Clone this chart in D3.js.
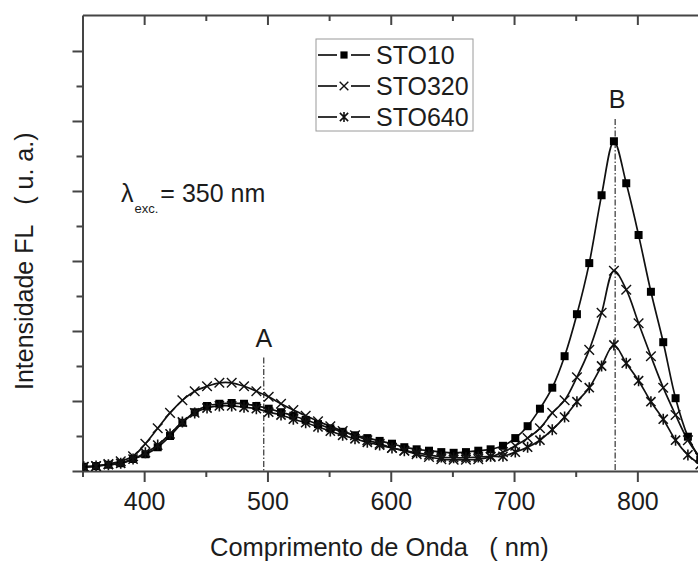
<!DOCTYPE html>
<html>
<head>
<meta charset="utf-8">
<script src="https://cdn.jsdelivr.net/npm/d3@7"></script>
<style>
  body { margin: 0; background: #fff; }
  text { font-family: "Liberation Sans", Arial, Helvetica, sans-serif; fill: #1c1c1c; }
</style>
</head>
<body>
<svg id="chart" width="698" height="561"></svg>
<script>
// Emission wavelengths (nm)
const wavelength = [351, 361, 371, 381, 391, 401, 411, 421, 431, 441,
                    451, 461, 471, 481, 491, 501, 511, 521, 531, 541,
                    551, 561, 571, 581, 591, 601, 611, 621, 631, 641,
                    651, 661, 671, 681, 691, 701, 711, 721, 731, 741,
                    751, 761, 771, 781, 791, 801, 811, 821, 831, 841, 851];

// Photoluminescence intensity (arbitrary units)
const sto10 = [0.06, 0.07, 0.09, 0.11, 0.17, 0.24, 0.34, 0.50, 0.69, 0.84,
               0.93, 0.96, 0.97, 0.96, 0.93, 0.89, 0.84, 0.79, 0.73, 0.67,
               0.61, 0.56, 0.51, 0.47, 0.43, 0.39, 0.34, 0.31, 0.29, 0.27,
               0.26, 0.27, 0.29, 0.31, 0.36, 0.47, 0.64, 0.89, 1.19, 1.64,
               2.24, 2.97, 3.94, 4.71, 4.11, 3.37, 2.56, 1.84, 1.04, 0.49, 0.16];

const sto320 = [0.06, 0.07, 0.10, 0.14, 0.21, 0.39, 0.61, 0.83, 1.01, 1.14,
                1.21, 1.26, 1.26, 1.21, 1.14, 1.06, 0.96, 0.87, 0.79, 0.71,
                0.64, 0.57, 0.51, 0.44, 0.39, 0.33, 0.29, 0.24, 0.20, 0.17,
                0.16, 0.16, 0.17, 0.20, 0.27, 0.36, 0.47, 0.61, 0.83, 1.01,
                1.34, 1.73, 2.26, 2.86, 2.59, 2.11, 1.64, 1.19, 0.80, 0.44, 0.19];

const sto640 = [0.06, 0.07, 0.09, 0.11, 0.17, 0.26, 0.37, 0.53, 0.70, 0.83,
                0.90, 0.93, 0.93, 0.91, 0.89, 0.84, 0.80, 0.74, 0.69, 0.63,
                0.57, 0.51, 0.46, 0.41, 0.37, 0.33, 0.29, 0.26, 0.23, 0.20,
                0.19, 0.19, 0.20, 0.21, 0.21, 0.27, 0.34, 0.44, 0.59, 0.77,
                0.99, 1.19, 1.50, 1.80, 1.54, 1.29, 0.99, 0.74, 0.44, 0.23, 0.09];

const seriesNames = ["STO10", "STO320", "STO640"];
const xTickLabels = [400, 500, 600, 700, 800];
const xMinorTicks = [350, 450, 550, 650, 750, 850];
const yMajorTicks = [0, 1, 2, 3, 4, 5, 6];
const yMinorTicks = [0.5, 1.5, 2.5, 3.5, 4.5, 5.5];
const bandLabels = ["A", "B"];
const bandPositions = [497, 782];
const bandHeights = [1.62, 5.03];

const svg = d3.select("#chart");
const pLeft = 82.5, pRight = 699, pTop = 15, pBottom = 471;

const x = d3.scaleLinear().domain([350, 850]).range([pLeft, pRight]);
const y = d3.scaleLinear().domain([0, 6.514]).range([pBottom, pTop]);

const axisColor = "#454545";

svg.append("defs").append("clipPath").attr("id", "plotClip")
  .append("rect").attr("x", pLeft).attr("y", pTop)
  .attr("width", pRight - pLeft).attr("height", pBottom - pTop);

function styleAxis(g) {
  g.selectAll("path.domain").attr("stroke", axisColor).attr("stroke-width", 2);
  g.selectAll(".tick line").attr("stroke", axisColor).attr("stroke-width", 2);
}

// bottom axis: labelled major ticks + minor ticks, pointing outward
const bx = svg.append("g").attr("transform", `translate(0,${pBottom})`);
bx.append("g")
  .call(d3.axisBottom(x).tickValues(xTickLabels).tickSizeInner(11).tickSizeOuter(0).tickPadding(10).tickFormat(d3.format("d")))
  .call(styleAxis)
  .call(g => g.selectAll("text").attr("font-size", 25).style("font-family", "'Liberation Sans', Arial, sans-serif").attr("fill", "#1c1c1c"));
bx.append("g")
  .call(d3.axisBottom(x).tickValues(xMinorTicks).tickSizeInner(6).tickSizeOuter(0).tickFormat(""))
  .call(styleAxis)
  .call(g => g.select("path.domain").remove());

// top axis: ticks pointing inward
const tx = svg.append("g").attr("transform", `translate(0,${pTop})`);
tx.append("g")
  .call(d3.axisBottom(x).tickValues(xTickLabels).tickSizeInner(10).tickSizeOuter(0).tickFormat(""))
  .call(styleAxis);
tx.append("g")
  .call(d3.axisBottom(x).tickValues(xMinorTicks.slice(1)).tickSizeInner(6).tickSizeOuter(0).tickFormat(""))
  .call(styleAxis)
  .call(g => g.select("path.domain").remove());

// left axis: unlabelled ticks pointing outward
const ly = svg.append("g").attr("transform", `translate(${pLeft},0)`);
ly.append("g")
  .call(d3.axisLeft(y).tickValues(yMajorTicks).tickSizeInner(10).tickSizeOuter(0).tickFormat(""))
  .call(styleAxis);
ly.append("g")
  .call(d3.axisLeft(y).tickValues(yMinorTicks).tickSizeInner(6).tickSizeOuter(0).tickFormat(""))
  .call(styleAxis)
  .call(g => g.select("path.domain").remove());

// axis titles
svg.append("text")
  .attr("x", 210).attr("y", 556)
  .attr("font-size", 25.5)
  .style("white-space", "pre")
  .text("Comprimento de Onda   ( nm)");

svg.append("text")
  .attr("transform", "translate(33,390) rotate(-90)")
  .attr("font-size", 25)
  .style("white-space", "pre")
  .text("Intensidade FL   ( u. a.)");

// excitation wavelength note
const note = svg.append("text").attr("x", 121).attr("y", 202).attr("font-size", 25);
note.append("tspan").text("λ");
note.append("tspan").attr("font-size", 13).attr("dy", 11).attr("dx", 1).text("exc.");
note.append("tspan").attr("dy", -11).attr("dx", 2).text("= 350 nm");

// band markers A and B (dash-dot guides)
const plot = svg.append("g").attr("clip-path", "url(#plotClip)");
bandPositions.forEach((wl, i) => {
  plot.append("line")
    .attr("x1", x(wl)).attr("x2", x(wl))
    .attr("y1", y(bandHeights[i])).attr("y2", pBottom)
    .attr("stroke", "#333").attr("stroke-width", 1.2)
    .attr("stroke-dasharray", "6,2,1.5,2");
  svg.append("text")
    .attr("x", x(wl) + (i === 1 ? 2 : 0)).attr("y", y(bandHeights[i]) - 11)
    .attr("text-anchor", "middle").attr("font-size", 25)
    .text(bandLabels[i]);
});

// marker symbols
const markers = {
  square: s => `M${-s},${-s}H${s}V${s}H${-s}Z`,
  cross: s => `M${-s},${-s}L${s},${s}M${-s},${s}L${s},${-s}`,
  star: s => `M${-s},${-s}L${s},${s}M${-s},${s}L${s},${-s}M0,${-s * 1.2}V${s * 1.2}`
};
const seriesDefs = [
  { name: seriesNames[0], values: sto10, shape: "square", size: 4, fill: "#000", sw: 0 },
  { name: seriesNames[1], values: sto320, shape: "cross", size: 4.8, fill: "none", sw: 1.4 },
  { name: seriesNames[2], values: sto640, shape: "star", size: 4.6, fill: "none", sw: 1.6 }
];

const line = d3.line()
  .x((d, i) => x(wavelength[i]))
  .y(d => y(d))
  .curve(d3.curveCatmullRom.alpha(0.5));

seriesDefs.forEach(s => {
  plot.append("path")
    .attr("d", line(s.values))
    .attr("fill", "none").attr("stroke", "#111").attr("stroke-width", 1.7);
});

seriesDefs.forEach(s => {
  plot.append("g").selectAll("path")
    .data(s.values)
    .join("path")
    .attr("transform", (d, i) => `translate(${x(wavelength[i])},${y(d)})`)
    .attr("d", markers[s.shape](s.size))
    .attr("fill", s.fill)
    .attr("stroke", "#111")
    .attr("stroke-width", s.sw);
});

// legend
const lg = svg.append("g").attr("transform", "translate(316,39)");
lg.append("rect").attr("width", 157).attr("height", 92)
  .attr("fill", "#fff").attr("stroke", "#9a9a9a").attr("stroke-width", 1);
seriesDefs.forEach((s, i) => {
  const cy = 16 + i * 31;
  const row = lg.append("g").attr("transform", `translate(0,${cy})`);
  row.append("line").attr("x1", 2).attr("x2", 21).attr("stroke", "#111").attr("stroke-width", 1.7);
  row.append("line").attr("x1", 35).attr("x2", 54).attr("stroke", "#111").attr("stroke-width", 1.7);
  row.append("path").attr("transform", "translate(28,0)")
    .attr("d", markers[s.shape](s.size * 0.9))
    .attr("fill", s.fill).attr("stroke", "#111").attr("stroke-width", s.sw);
  row.append("text").attr("x", 60).attr("y", 9).attr("font-size", 25).text(s.name);
});
</script>
</body>
</html>
